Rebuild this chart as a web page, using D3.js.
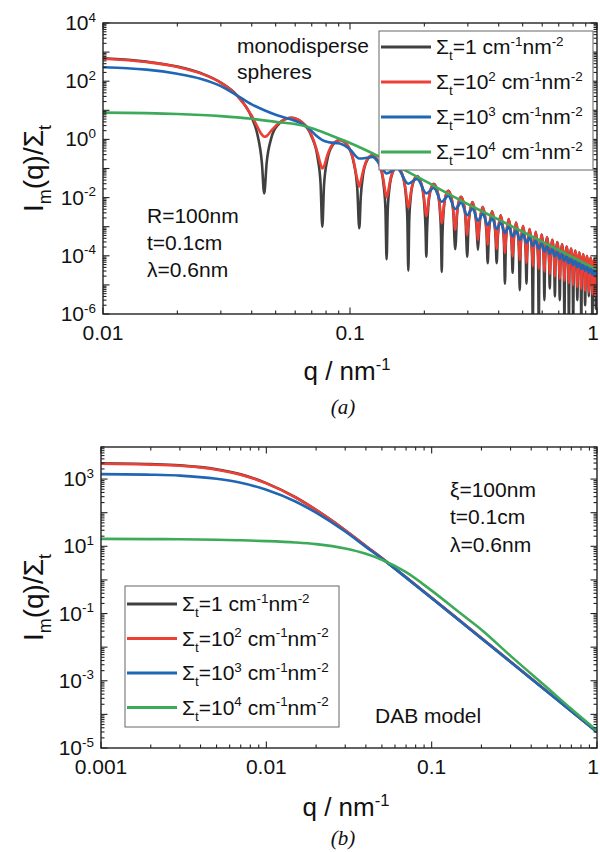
<!DOCTYPE html>
<html><head><meta charset="utf-8">
<script src="https://cdn.jsdelivr.net/npm/d3@7"></script>
<style>
body{margin:0;background:#fff}
svg{display:block}
text{font-family:"Liberation Sans",Arial,Helvetica,sans-serif;fill:#111}
text.cap{font-family:"Liberation Serif","Times New Roman","DejaVu Serif",serif;font-style:italic}
</style>
</head><body>
<svg id="c" width="600" height="852"></svg>
<script>
// ---------------- Panel (a): monodisperse spheres ----------------
const qSphere = [
 0.01,0.015,0.02,0.025,0.03,0.035,0.04,0.042,0.044,0.04493,
 0.046,0.048,0.051,0.05763,0.064,0.07,0.074,0.076,0.07725,
 0.0785,0.081,0.085,0.09095,0.098,0.103,0.107,0.10904,
 0.11054,0.11304,0.11704,0.12323,0.13266,0.13666,0.13916,0.14066,
 0.14216,0.14466,0.14866,0.15515,0.16421,0.16821,0.17071,0.17221,
 0.17371,0.17621,0.18021,0.18689,0.19571,0.19971,0.20221,0.20371,
 0.20521,0.20771,0.21171,0.21854,0.2272,0.2312,0.2337,0.2352,
 0.2367,0.2392,0.2432,0.25013,0.25866,0.26266,0.26516,0.26666,
 0.26816,0.27066,0.27466,0.28168,0.29012,0.29412,0.29662,0.29812,
 0.30212,0.3132,0.32556,0.32956,
 0.33356,0.3447,0.35701,0.36101,
 0.36501,0.37619,0.38844,0.39244,
 0.39644,0.40767,0.41988,0.42388,
 0.42788,0.43914,0.45131,0.45531,
 0.45931,0.4706,0.48274,0.48674,
 0.49074,0.50206,0.51417,0.51817,
 0.52217,0.53351,0.5456,0.5496,
 0.5536,0.56496,0.57702,0.58102,
 0.58502,0.59641,0.60845,0.61245,
 0.61645,0.62785,0.63987,0.64387,
 0.64787,0.65929,0.67129,0.67529,
 0.67929,0.69073,0.70272,0.70672,
 0.71072,0.72217,0.73414,0.73814,
 0.74214,0.7536,0.76556,0.76956,
 0.77356,0.78504,0.79698,0.80098,
 0.80498,0.81647,0.8284,0.8324,
 0.8364,0.8479,0.85982,0.86382,
 0.86782,0.87933,0.89124,0.89524,
 0.89924,0.91076,0.92266,0.92666,
 0.93066,0.94219,0.95408,0.95808,
 0.96208,0.97362,0.9855,0.9895,
 0.9935,1.0];
const sphereS1 = [
 612,471,320,187,89.6,31.5,5.69,1.73,0.149,0.014,
 0.1625,1.107,3.12,5.57,3.82,1.225,0.226,0.0311,0.001,
 0.0271,0.207,0.626,0.952,0.584,0.191,0.021,8.8e-4,
 0.0101,0.0627,0.1851,0.287,0.1121,0.02934,0.00402,7.6e-5,
 0.00369,0.02336,0.0711,0.115,0.04777,0.01278,0.001775,3.1e-5,
 0.001655,0.01061,0.03293,0.0549,0.02368,0.006432,9.01e-4,9.3e-5,
 8.5e-4,0.005497,0.01729,0.0296,0.01304,0.003582,5.05e-4,2.8e-5,
 4.8e-4,0.003126,0.00993,0.0172,0.00776,0.00215,3.05e-4,1.7e-4,
 2.91e-4,0.001907,0.006103,0.0107,0.004903,0.001367,1.95e-4,9.3e-5,
 0.001228,0.00701,9.11e-4,1.6e-4,
 8.27e-4,0.004781,6.30e-4,5.6e-5,
 5.76e-4,0.00337,4.49e-4,5.6e-5,
 4.14e-4,0.002444,3.29e-4,1.1e-5,
 3.05e-4,0.001815,2.47e-4,2.6e-5,
 2.30e-4,0.001376,1.88e-4,6.6e-6,
 1.76e-4,0.001062,1.46e-4,1.1e-5,
 1.38e-4,8.33e-4,1.155e-4,5e-7,
 1.09e-4,6.626e-4,9.23e-5,5e-7,
 8.73e-5,5.335e-4,7.47e-5,3e-6,
 7.08e-5,4.344e-4,6.11e-5,7.6e-6,
 5.81e-5,3.573e-4,5.03e-5,4e-6,
 4.81e-5,2.965e-4,4.20e-5,3e-6,
 4.01e-5,2.482e-4,3.52e-5,5e-7,
 3.37e-5,2.093e-4,2.98e-5,5e-7,
 2.86e-5,1.777e-4,2.54e-5,5e-7,
 2.44e-5,1.519e-4,2.17e-5,3e-6,
 2.09e-5,1.306e-4,1.87e-5,5e-7,
 1.80e-5,1.129e-4,1.62e-5,2e-6,
 1.56e-5,9.81e-5,1.41e-5,4e-6,
 1.36e-5,8.57e-5,1.24e-5,5e-7,
 1.19e-5,7.51e-5,1.09e-5,1.5e-6,
 1.05e-5,5.07e-5];
const sphereS1e2 = [
 590,455,310,182,88,31,6.5,2.9,1.45,1.24,
 1.31,2.0,3.4,5.5,3.9,1.35,0.33,0.14,0.10,
 0.12,0.29,0.67,0.94,0.6,0.21,0.043,0.024,
 0.0366,0.0837,0.1956,0.284,0.1185,0.0392,0.01458,0.0103,
 0.01339,0.0312,0.0751,0.114,0.05047,0.01707,0.006438,0.004605,
 0.006005,0.01418,0.0348,0.0544,0.02502,0.008592,0.00327,0.002351,
 0.003083,0.007343,0.01827,0.0293,0.01377,0.004785,0.001833,0.001324,
 0.001742,0.004175,0.01049,0.0171,0.0082,0.002872,0.001107,8.0e-4,
 0.001057,0.002547,0.006448,0.0106,0.00518,0.001826,7.06e-4,5.13e-4,
 0.001641,0.00694,0.001217,3.43e-4,
 0.001104,0.00473,8.42e-4,2.39e-4,
 7.70e-4,0.00334,6.0e-4,1.71e-4,
 5.53e-4,0.00242,4.40e-4,1.25e-4,
 4.08e-4,0.0018,3.29e-4,9.43e-5,
 3.07e-4,0.00136,2.52e-4,7.2e-5,
 2.36e-4,0.00105,1.96e-4,5.6e-5,
 1.84e-4,8.25e-4,1.54e-4,4.4e-5,
 1.46e-4,6.56e-4,1.23e-4,3.55e-5,
 1.17e-4,5.28e-4,9.98e-5,2.88e-5,
 9.46e-5,4.30e-4,8.16e-5,2.36e-5,
 7.76e-5,3.54e-4,6.72e-5,1.95e-5,
 6.42e-5,2.94e-4,5.61e-5,1.62e-5,
 5.36e-5,2.46e-4,4.70e-5,1.36e-5,
 4.51e-5,2.07e-4,3.98e-5,1.15e-5,
 3.82e-5,1.76e-4,3.39e-5,9.8e-6,
 3.25e-5,1.50e-4,2.90e-5,8.4e-6,
 2.79e-5,1.29e-4,2.50e-5,7.3e-6,
 2.41e-5,1.12e-4,2.17e-5,6.3e-6,
 2.09e-5,9.71e-5,1.89e-5,5.5e-6,
 1.82e-5,8.48e-5,1.65e-5,4.8e-6,
 1.60e-5,7.43e-5,1.45e-5,4.2e-6,
 1.40e-5,5.17e-5];
const qSphereS1e3 = [
 0.01,0.0125,0.015,0.02,0.025,0.03,0.035,0.04,0.045,0.05,0.057,0.063,0.068,0.0723,0.0773,0.082,
 0.091,0.1,0.109,0.116,0.1232,0.132,0.1407,0.1551,0.1722,0.1869,0.2037,0.2185,0.2352,0.2501,
 0.2667,0.2817,0.2981,0.3132,0.3296,0.3447,0.361,0.3762,0.3924,0.4077,0.4239,0.4391,0.4553,
 0.4706,0.4867,0.5021,0.5181,0.5335,0.5495,0.565,0.5809,0.5964,0.6123,0.6279,0.6437,0.6593,
 0.6751,0.6907,0.7065,0.7222,0.7379,0.7536,0.7693,0.785,0.8007,0.8165,0.8321,0.8479,0.8635,
 0.8793,0.8949,0.9108,0.9263,0.9422,0.9577,0.9736,0.9895,1.0];
const sphereS1e3 = [
 300,280,250,180,120,68,32,16,10,7,5.0,3.6,2.4,1.45,0.95,0.8,
 0.72,0.45,0.22,0.23,0.25,0.14,0.068,0.1,0.03,0.044,0.014,0.0214,0.00717,0.0115,
 0.00405,0.00674,0.00247,0.00424,0.0016,0.00281,0.001137,0.001927,8.32e-4,0.001363,6.1e-4,9.91e-4,4.59e-4,
 7.36e-4,3.52e-4,5.57e-4,2.75e-4,4.29e-4,2.18e-4,3.35e-4,1.75e-4,2.66e-4,1.40e-4,2.13e-4,1.15e-4,1.73e-4,
 9.54e-5,1.41e-4,7.85e-5,1.17e-4,6.63e-5,9.72e-5,5.54e-5,8.15e-5,4.75e-5,6.88e-5,4.03e-5,5.85e-5,3.50e-5,
 5.0e-5,3.0e-5,4.30e-5,2.59e-5,3.72e-5,2.28e-5,3.23e-5,1.98e-5,2.6e-5];
const qSphereS1e4 = [0.01,0.015,0.02,0.025,0.03,0.035,0.04,0.05,0.063,0.07,0.08,0.09,0.1,0.115,0.132,0.16,0.2,0.25,0.3,0.4,0.5,0.6,0.7,0.8,0.9,1.0];
const sphereS1e4 = [8.3,8.0,7.5,6.9,6.3,5.7,5.1,4.0,3.1,2.4,1.6,1.08,0.75,0.44,0.25,0.105,0.038,0.0135,0.006,0.00174,6.7e-4,3.05e-4,1.57e-4,8.8e-5,5.3e-5,3.4e-5];

// ---------------- Panel (b): DAB model ----------------
const qDab = [0.001,0.002,0.003,0.005,0.007,0.01,0.015,0.02,0.03,0.04,0.05,0.07,0.1,0.15,0.2,0.3,0.5,0.7,1.0];
const dabS1   = [2950,2790,2560,1960,1380,760,288,121,30.2,10.2,4.45,1.2,0.294,0.0587,0.0187,0.0037,4.8e-4,1.25e-4,3.0e-5];
const dabS1e2 = [2850,2700,2480,1900,1345,745,284,120,30,10.1,4.42,1.19,0.292,0.0583,0.0185,0.00367,4.77e-4,1.24e-4,2.98e-5];
const dabS1e3 = [1400,1350,1270,1020,780,480,215,100,27.5,9.6,4.3,1.17,0.285,0.0568,0.0181,0.0036,4.7e-4,1.23e-4,2.98e-5];
const dabS1e4 = [16.6,16.4,16.2,15.7,15.1,14.3,13.0,11.6,8.6,6.0,4.0,1.7,0.48,0.1,0.033,0.0055,6.2e-4,1.45e-4,3.3e-5];

// ---------------- Legends / ticks ----------------
const seriesExp = ["1","10^2","10^3","10^4"];
const seriesColors = ["#404040","#ee3f35","#1f66b6","#3daa5a"];
const xTicksA = [0.01,0.1,1], xTickLabelsA = ["0.01","0.1","1"];
const yTicksA = [1e4,1e2,1,1e-2,1e-4,1e-6], yExpA = ["4","2","0","-2","-4","-6"];
const xTicksB = [0.001,0.01,0.1,1], xTickLabelsB = ["0.001","0.01","0.1","1"];
const yTicksB = [1e3,1e1,1e-1,1e-3,1e-5], yExpB = ["3","1","-1","-3","-5"];

const svg = d3.select("#c");
const FS = 21;

function rich(t, parts, fs){
  let off = 0;
  parts.forEach(p=>{
    const target = p.sup ? -0.4*fs : (p.sub ? 0.3*fs : 0);
    t.append("tspan").attr("dy", target-off)
      .attr("font-size", (p.sup||p.sub) ? fs*0.64 : fs).text(p.t);
    off = target;
  });
}
function decadeMinors(lo, hi){
  const out=[];
  for(let e=lo;e<hi;e++) for(let k=2;k<=9;k++) out.push(k*Math.pow(10,e));
  return out;
}
function decades(lo,hi){const o=[];for(let e=lo;e<=hi;e++)o.push(Math.pow(10,e));return o;}

function panel(cfg){
  const x = d3.scaleLog().domain(cfg.xd).range([cfg.L,cfg.R]);
  const y = d3.scaleLog().domain(cfg.yd).range([cfg.B,cfg.T]);
  const g = svg.append("g");
  const cid = "clip"+cfg.id;
  svg.append("clipPath").attr("id",cid).append("rect")
    .attr("x",cfg.L).attr("y",cfg.T).attr("width",cfg.R-cfg.L).attr("height",cfg.B-cfg.T);
  const line = d3.line().x(d=>x(d[0])).y(d=>y(d[1])).curve(d3.curveMonotoneX);
  const lg = g.append("g").attr("clip-path",`url(#${cid})`);
  cfg.series.forEach((s,i)=>{
    lg.append("path").datum(d3.zip(s.q,s.v)).attr("d",line)
      .attr("fill","none").attr("stroke",seriesColors[i]).attr("stroke-width",2.6)
      .attr("stroke-linejoin","round");
  });
  // ticks
  const tk = g.append("g").attr("stroke","#222").attr("stroke-width",1.1);
  const xLo = Math.round(Math.log10(cfg.xd[0])), xHi = Math.round(Math.log10(cfg.xd[1]));
  const xMaj = decades(xLo,xHi), xMin = decadeMinors(xLo,xHi);
  const yLo = Math.floor(Math.log10(cfg.yd[0])), yHi = Math.ceil(Math.log10(cfg.yd[1]));
  const yMaj = decades(yLo,yHi).filter(v=>v>=cfg.yd[0]&&v<=cfg.yd[1]);
  const yMin = decadeMinors(yLo,yHi).filter(v=>v>=cfg.yd[0]&&v<=cfg.yd[1]);
  [[xMaj,6.5],[xMin,3.5]].forEach(([arr,len])=>{
    arr.forEach(v=>{
      const px=x(v);
      tk.append("line").attr("x1",px).attr("x2",px).attr("y1",cfg.B).attr("y2",cfg.B-len);
      tk.append("line").attr("x1",px).attr("x2",px).attr("y1",cfg.T).attr("y2",cfg.T+len);
    });
  });
  [[yMaj,6.5],[yMin,3.5]].forEach(([arr,len])=>{
    arr.forEach(v=>{
      const py=y(v);
      tk.append("line").attr("y1",py).attr("y2",py).attr("x1",cfg.L).attr("x2",cfg.L+len);
      tk.append("line").attr("y1",py).attr("y2",py).attr("x1",cfg.R).attr("x2",cfg.R-len);
    });
  });
  g.append("rect").attr("x",cfg.L).attr("y",cfg.T).attr("width",cfg.R-cfg.L).attr("height",cfg.B-cfg.T)
    .attr("fill","none").attr("stroke","#222").attr("stroke-width",1.4);
  // tick labels
  cfg.xTicks.forEach((v,i)=>{
    g.append("text").attr("x",Math.min(x(v),593)).attr("y",cfg.B+26).attr("text-anchor","middle")
      .attr("font-size",FS).text(cfg.xLabels[i]);
  });
  cfg.yTicks.forEach((v,i)=>{
    const t = g.append("text").attr("x",cfg.L-7).attr("y",y(v)+7).attr("text-anchor","end").attr("font-size",FS);
    rich(t,[{t:"10"},{t:cfg.yExp[i],sup:true}],FS);
  });
  // axis titles
  const xt = g.append("text").attr("x",(cfg.L+cfg.R)/2-3).attr("y",cfg.xTitleY).attr("text-anchor","middle").attr("font-size",26);
  rich(xt,[{t:"q / nm"},{t:"-1",sup:true}],26);
  const yt = g.append("text").attr("transform",`translate(${cfg.yTitleX},${(cfg.T+cfg.B)/2}) rotate(-90)`)
    .attr("text-anchor","middle").attr("font-size",28);
  rich(yt,[{t:"I"},{t:"m",sub:true},{t:"(q)/Σ"},{t:"t",sub:true}],28);
  g.append("text").attr("class","cap").attr("x",cfg.capX).attr("y",cfg.capY).attr("text-anchor","middle")
    .attr("font-size",21).text(cfg.caption);
  // notes
  cfg.notes.forEach(n=>{
    g.append("text").attr("x",n[0]).attr("y",n[1]).attr("font-size",FS).text(n[2]);
  });
  // legend
  const L = cfg.legend;
  g.append("rect").attr("x",L.x).attr("y",L.y).attr("width",L.w).attr("height",L.h)
    .attr("fill","#fff").attr("stroke","#666").attr("stroke-width",1);
  seriesExp.forEach((e,i)=>{
    const yy = L.y + L.first + i*L.step;
    g.append("line").attr("x1",L.x+2).attr("x2",L.x+52).attr("y1",yy).attr("y2",yy)
      .attr("stroke",seriesColors[i]).attr("stroke-width",3);
    const t = g.append("text").attr("x",L.x+57).attr("y",yy+7).attr("font-size",FS);
    const parts=[{t:"Σ"},{t:"t",sub:true}];
    if(e==="1") parts.push({t:"=1 cm"});
    else { parts.push({t:"=10"}); parts.push({t:e.split("^")[1],sup:true}); parts.push({t:" cm"}); }
    parts.push({t:"-1",sup:true},{t:"nm"},{t:"-2",sup:true});
    rich(t,parts,FS);
  });
}

panel({id:"a", xd:[0.01,1], yd:[1e-6,1e4], L:103, R:597, T:23, B:314,
  series:[{q:qSphere,v:sphereS1},{q:qSphere,v:sphereS1e2},{q:qSphereS1e3,v:sphereS1e3},{q:qSphereS1e4,v:sphereS1e4}],
  xTicks:xTicksA, xLabels:xTickLabelsA, yTicks:yTicksA, yExp:yExpA,
  xTitleY:380, yTitleX:43, capX:343, capY:414, caption:"(a)",
  notes:[[237,53,"monodisperse"],[237,79,"spheres"],[147,223,"R=100nm"],[147,250,"t=0.1cm"],[147,277,"λ=0.6nm"]],
  legend:{x:379,y:31,w:214,h:139,first:16,step:35}
});
panel({id:"b", xd:[0.001,1], yd:[1e-5,9e3], L:101, R:597, T:447, B:748,
  series:[{q:qDab,v:dabS1},{q:qDab,v:dabS1e2},{q:qDab,v:dabS1e3},{q:qDab,v:dabS1e4}],
  xTicks:xTicksB, xLabels:xTickLabelsB, yTicks:yTicksB, yExp:yExpB,
  xTitleY:816, yTitleX:43, capX:343, capY:845, caption:"(b)",
  notes:[[450,497,"ξ=100nm"],[450,524,"t=0.1cm"],[450,552,"λ=0.6nm"],[375,723,"DAB model"]],
  legend:{x:125,y:586,w:214,h:141,first:18,step:34.5}
});
</script>
</body></html>
